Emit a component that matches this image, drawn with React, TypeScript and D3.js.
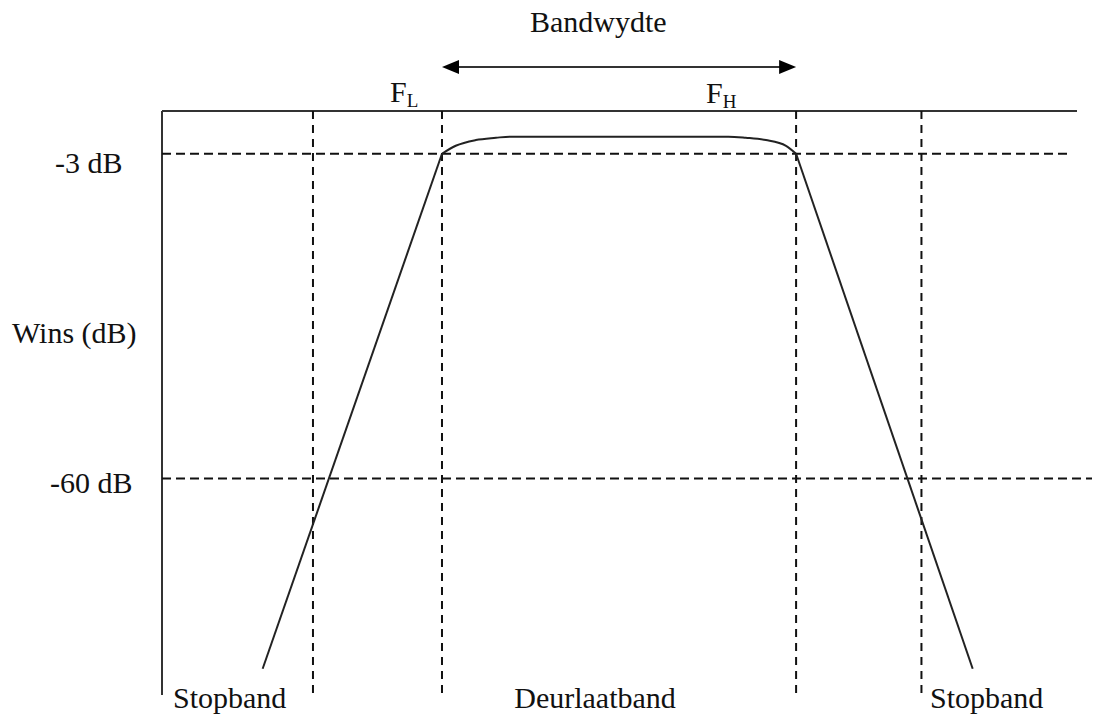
import React from "react";
import * as d3 from "d3";

// frequency in arbitrary units (0..100 across the plot), gain in dB
const bandEdges = [16.5, 30.6, 69.3, 83.0]; // stopband edge, F_L, F_H, stopband edge
const levelLines = [-3, -60];
const levelLabels = ["-3 dB", "-60 dB"];
const lowerSkirt: [number, number][] = [
  [11.0, -93.4],
  [30.6, -3],
];
const passband: [number, number][] = [
  [30.6, -3],
  [32.1, -1.6],
  [34.3, -0.6],
  [36.5, -0.2],
  [38.0, 0],
  [61.9, 0],
  [63.8, -0.2],
  [66.0, -0.6],
  [68.2, -1.6],
  [69.3, -3],
];
const upperSkirt: [number, number][] = [
  [69.3, -3],
  [88.6, -93.4],
];
const regionLabels = ["Stopband", "Deurlaatband", "Stopband"];

const W = 1094;
const H = 716;
const FONT = "'Liberation Serif', 'Times New Roman', serif";

const App = () => {
  const x = d3.scaleLinear().domain([0, 100]).range([162, 1077]);
  const y = d3.scaleLinear().domain([-98, 4.5]).range([695, 111]);

  const line = d3
    .line<[number, number]>()
    .x((d) => x(d[0]))
    .y((d) => y(d[1]));
  const smooth = d3
    .line<[number, number]>()
    .x((d) => x(d[0]))
    .y((d) => y(d[1]))
    .curve(d3.curveMonotoneX);

  const [x0, x1] = x.range();
  const top = y.range()[1];
  const bottom = y.range()[0];
  const fL = x(bandEdges[1]);
  const fH = x(bandEdges[2]);
  const arrowY = 67;

  return (
    <svg
      width={W}
      height={H}
      style={{ position: "absolute", left: 0, top: 0, background: "#fff" }}
      fontFamily={FONT}
      fontSize={30}
    >
      {/* frame: left and top axis lines */}
      <line x1={x0} y1={top} x2={x0} y2={bottom} stroke="#333" strokeWidth={2} />
      <line x1={x0} y1={top} x2={x1} y2={top} stroke="#333" strokeWidth={2} />

      {/* dashed band edges */}
      {bandEdges.map((f, i) => (
        <line
          key={"v" + i}
          x1={x(f)}
          x2={x(f)}
          y1={top}
          y2={bottom + 2}
          stroke="#111"
          strokeWidth={2}
          strokeDasharray="8,6"
        />
      ))}

      {/* dashed level lines */}
      {levelLines.map((v, i) => (
        <line
          key={"h" + i}
          x1={x0}
          x2={i === 0 ? x1 - 5 : x1 + 15}
          y1={y(v)}
          y2={y(v)}
          stroke="#111"
          strokeWidth={2}
          strokeDasharray="9,5"
        />
      ))}

      {/* response curve */}
      <path d={line(lowerSkirt) || ""} fill="none" stroke="#222" strokeWidth={2} />
      <path d={smooth(passband) || ""} fill="none" stroke="#222" strokeWidth={2} />
      <path d={line(upperSkirt) || ""} fill="none" stroke="#222" strokeWidth={2} />

      {/* bandwidth arrow */}
      <line x1={fL + 14} x2={fH - 14} y1={arrowY} y2={arrowY} stroke="#333" strokeWidth={2} />
      <path d={`M${fL},${arrowY} L${fL + 17},${arrowY - 7} L${fL + 17},${arrowY + 7} Z`} fill="#000" />
      <path d={`M${fH},${arrowY} L${fH - 17},${arrowY - 7} L${fH - 17},${arrowY + 7} Z`} fill="#000" />
      <text x={530} y={32} fill="#111">
        Bandwydte
      </text>

      {/* F_L and F_H */}
      <text x={fL - 52} y={102} fill="#111">
        F<tspan fontSize={19} dy={5}>L</tspan>
      </text>
      <text x={fH - 90} y={103} fill="#111">
        F<tspan fontSize={19} dy={5}>H</tspan>
      </text>

      {/* y labels */}
      <text x={55} y={y(levelLines[0]) + 19} fill="#111">
        {levelLabels[0]}
      </text>
      <text x={12} y={343} fill="#111">
        Wins (dB)
      </text>
      <text x={50} y={y(levelLines[1]) + 15} fill="#111">
        {levelLabels[1]}
      </text>

      {/* region labels */}
      <text x={173} y={708} fill="#111">
        {regionLabels[0]}
      </text>
      <text x={(fL + fH) / 2 - 24} y={708} fill="#111" textAnchor="middle">
        {regionLabels[1]}
      </text>
      <text x={930} y={708} fill="#111">
        {regionLabels[2]}
      </text>
    </svg>
  );
};

export default App;
